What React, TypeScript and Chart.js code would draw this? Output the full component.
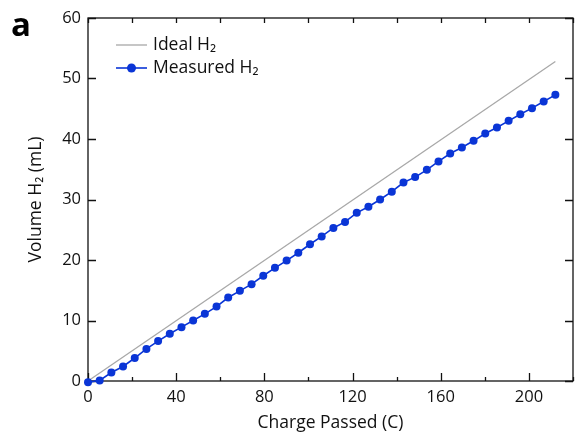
import { useEffect, useRef } from 'react';
import { Chart, registerables } from 'chart.js';

Chart.register(...registerables);

// ---- data ----
const idealCharge = [0, 212];
const idealVolume = [0, 52.8];

const measuredCharge = [
  0, 5.3, 10.6, 15.9, 21.2, 26.5, 31.8, 37.1, 42.4, 47.7, 53, 58.3, 63.6, 68.9,
  74.2, 79.5, 84.8, 90.1, 95.4, 100.7, 106, 111.3, 116.6, 121.9, 127.2, 132.5,
  137.8, 143.1, 148.4, 153.7, 159, 164.3, 169.6, 174.9, 180.2, 185.5, 190.8,
  196.1, 201.4, 206.7, 212,
];
const measuredVolume = [
  -0.2, 0.1, 1.4, 2.4, 3.8, 5.3, 6.6, 7.8, 8.9, 10.0, 11.1, 12.3, 13.8, 14.9,
  16.0, 17.4, 18.7, 19.9, 21.2, 22.6, 23.9, 25.3, 26.3, 27.8, 28.8, 30.0, 31.3,
  32.8, 33.7, 34.9, 36.3, 37.6, 38.6, 39.7, 40.9, 41.9, 43.0, 44.1, 45.1, 46.2,
  47.3,
];

const xTickValues = [0, 20, 40, 60, 80, 100, 120, 140, 160, 180, 200, 220];
const xLabelValues = [0, 40, 80, 120, 160, 200];
const yTickValues = [0, 10, 20, 30, 40, 50, 60];

const seriesNames = ['Ideal H\u2082', 'Measured H\u2082'];
const xTitle = 'Charge Passed (C)';
const yTitle = 'Volume H\u2082 (mL)';
const panelLabel = 'a';

const FONT = '"Open Sans", "Noto Sans", sans-serif';
const TEXT = '#111';
const BLUE = '#0a35d6';
const GREY = '#a8a8a8';

const decor = {
  id: 'decor',
  beforeDatasetsDraw(chart: any) {
    const { ctx, chartArea: a, scales } = chart;
    const x = scales.x;
    const y = scales.y;
    ctx.save();
    ctx.strokeStyle = '#111';
    ctx.lineWidth = 1.3;
    ctx.strokeRect(a.left, a.top, a.right - a.left, a.bottom - a.top);
    ctx.beginPath();
    for (const v of xTickValues) {
      const px = Math.round(x.getPixelForValue(v)) + 0.5;
      const major = xLabelValues.includes(v);
      ctx.moveTo(px, a.bottom);
      ctx.lineTo(px, a.bottom - (major ? 8 : 4));
      ctx.moveTo(px, a.top);
      ctx.lineTo(px, a.top + 5);
    }
    for (const v of yTickValues) {
      const py = Math.round(y.getPixelForValue(v)) + 0.5;
      ctx.moveTo(a.left, py);
      ctx.lineTo(a.left + 8, py);
      ctx.moveTo(a.right, py);
      ctx.lineTo(a.right - 8, py);
    }
    ctx.stroke();
    ctx.restore();
  },
  afterDraw(chart: any) {
    const { ctx, chartArea: a } = chart;
    ctx.save();
    const lx0 = a.left + 28;
    const lx1 = a.left + 59;
    const ly0 = a.top + 27;
    const ly1 = a.top + 50;
    // ideal
    ctx.strokeStyle = GREY;
    ctx.lineWidth = 1.3;
    ctx.beginPath();
    ctx.moveTo(lx0, ly0);
    ctx.lineTo(lx1, ly0);
    ctx.stroke();
    // measured
    ctx.strokeStyle = BLUE;
    ctx.lineWidth = 1.6;
    ctx.beginPath();
    ctx.moveTo(lx0, ly1);
    ctx.lineTo(lx1, ly1);
    ctx.stroke();
    ctx.fillStyle = BLUE;
    ctx.beginPath();
    ctx.arc((lx0 + lx1) / 2, ly1, 4.5, 0, Math.PI * 2);
    ctx.fill();
    ctx.fillStyle = TEXT;
    ctx.font = `17.5px ${FONT}`;
    ctx.textBaseline = 'middle';
    ctx.textAlign = 'left';
    ctx.fillText(seriesNames[0], lx1 + 6, ly0);
    ctx.fillText(seriesNames[1], lx1 + 6, ly1);
    ctx.font = `bold 33px ${FONT}`;
    ctx.textBaseline = 'alphabetic';
    ctx.fillStyle = '#000';
    ctx.fillText(panelLabel, 11, 36);
    ctx.restore();
  },
};

export default function App() {
  const ref = useRef<HTMLCanvasElement | null>(null);
  useEffect(() => {
    if (!ref.current) return;
    const chart = new Chart(ref.current, {
      type: 'line',
      data: {
        datasets: [
          {
            label: seriesNames[1],
            data: measuredCharge.map((c, i) => ({ x: c, y: measuredVolume[i] })),
            borderColor: BLUE,
            backgroundColor: BLUE,
            borderWidth: 1.6,
            pointRadius: 4,
            pointHoverRadius: 4,
            pointBorderWidth: 0,
            pointBackgroundColor: BLUE,
            tension: 0,
            order: 0,
          },
          {
            label: seriesNames[0],
            data: idealCharge.map((c, i) => ({ x: c, y: idealVolume[i] })),
            borderColor: GREY,
            borderWidth: 1.3,
            pointRadius: 0,
            tension: 0,
            order: 1,
          },
        ],
      },
      options: {
        animation: false,
        responsive: false,
        clip: false as any,
        layout: { padding: { left: 26, top: 18, right: 1, bottom: 0 } },
        plugins: { legend: { display: false }, tooltip: { enabled: false } },
        scales: {
          x: {
            type: 'linear',
            min: 0,
            max: 220,
            grid: { display: false, drawTicks: false },
            border: { display: false },
            ticks: {
              stepSize: 40,
              autoSkip: false,
              maxRotation: 0,
              padding: 6,
              color: TEXT,
              font: { family: FONT, size: 16.5 },
              callback: (v: any) => (xLabelValues.includes(Number(v)) ? String(v) : ''),
            },
            title: {
              display: true,
              text: xTitle,
              color: TEXT,
              font: { family: FONT, size: 17.5 },
              padding: { top: 0, bottom: 1 },
            },
            afterFit: (s: any) => {
              s.height = 54;
            },
          },
          y: {
            type: 'linear',
            min: 0,
            max: 60,
            grid: { display: false, drawTicks: false },
            border: { display: false },
            ticks: {
              stepSize: 10,
              padding: 7,
              color: TEXT,
              font: { family: FONT, size: 16.5 },
            },
            title: {
              display: true,
              text: yTitle,
              color: TEXT,
              font: { family: FONT, size: 17.5 },
              padding: { top: 0, bottom: 0 },
            },
            afterFit: (s: any) => {
              s.width = 62;
            },
          },
        },
      },
      plugins: [decor],
    });
    return () => chart.destroy();
  }, []);
  return (
    <div
      style={{
        position: 'absolute',
        left: 0,
        top: 0,
        width: 576,
        height: 435,
        overflow: 'hidden',
        background: '#fff',
      }}
    >
      <canvas ref={ref} width={579} height={435} style={{ display: 'block' }} />
    </div>
  );
}
